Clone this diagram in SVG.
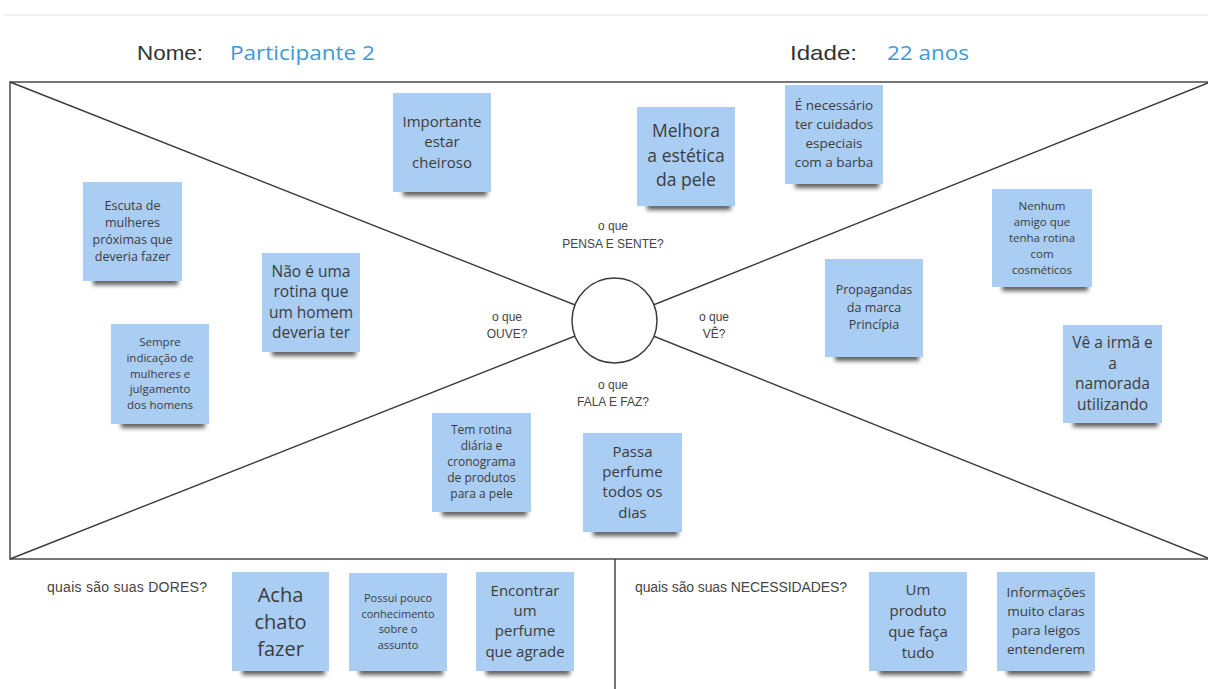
<svg xmlns="http://www.w3.org/2000/svg" width="1208" height="689" viewBox="0 0 1208 689">
<style>
.frame{fill:none;stroke:#4a4a4a;stroke-width:1.5}
.conn line{stroke:#3a3a3a;stroke-width:1.4}
.hub{fill:#fff;stroke:#3a3a3a;stroke-width:1.5}
.paper{fill:#a9cdf3}
.shadow{fill:#1e1e1e;opacity:.7;filter:url(#blur)}
.nt{font-family:"Open Sans","Noto Sans",sans-serif;fill:#3c3c3c;text-anchor:middle}
.lbl{font-family:"Liberation Sans","DejaVu Sans",sans-serif;fill:#444;font-size:12px;text-anchor:middle}
.sec{font-family:"Liberation Sans","DejaVu Sans",sans-serif;fill:#444;font-size:14px}
.hd{font-family:"Liberation Sans","DejaVu Sans",sans-serif;fill:#333;font-size:21px}
.hv{font-family:"Open Sans","Noto Sans",sans-serif;fill:#3d9ad6;font-size:20px}
</style>
<defs>
<filter id="blur" x="-20%" y="-100%" width="140%" height="300%"><feGaussianBlur stdDeviation="2"/></filter>
</defs>
<rect width="1208" height="689" fill="#fff"/>
<line x1="4" y1="15" x2="1208" y2="15" stroke="#eeeeee" stroke-width="1.5"/>

<g id="header">
<text class="hd" x="137" y="60" textLength="66" lengthAdjust="spacingAndGlyphs">Nome:</text>
<text class="hv" x="230" y="60" textLength="145" lengthAdjust="spacingAndGlyphs">Participante 2</text>
<text class="hd" x="790" y="60" textLength="67" lengthAdjust="spacingAndGlyphs">Idade:</text>
<text class="hv" x="887" y="60" textLength="82" lengthAdjust="spacingAndGlyphs">22 anos</text>
</g>

<g id="connectors" class="conn">
<rect class="frame" x="10" y="82" width="1210" height="477"/>
<line x1="10" y1="82" x2="614.5" y2="320.5"/>
<line x1="10" y1="559" x2="614.5" y2="320.5"/>
<line x1="1208" y1="83" x2="614.5" y2="320.5"/>
<line x1="1208" y1="558" x2="614.5" y2="320.5"/>
<line x1="615" y1="559" x2="615" y2="689"/>
</g>

<g id="hub"><circle class="hub" cx="614.5" cy="320.5" r="42.5"/></g>

<g id="label-pensa"><text class="lbl"><tspan x="613" y="230">o que</tspan><tspan x="613" y="248">PENSA E SENTE?</tspan></text></g>
<g id="label-ouve"><text class="lbl"><tspan x="507" y="321">o que</tspan><tspan x="507" y="338">OUVE?</tspan></text></g>
<g id="label-ve"><text class="lbl"><tspan x="714" y="321">o que</tspan><tspan x="714" y="338">VÊ?</tspan></text></g>
<g id="label-fala"><text class="lbl"><tspan x="613" y="389">o que</tspan><tspan x="613" y="406">FALA E FAZ?</tspan></text></g>

<g id="label-dores"><text class="sec" x="47" y="592" textLength="160">quais são suas DORES?</text></g>
<g id="label-necessidades"><text class="sec" x="635" y="592" textLength="212">quais são suas NECESSIDADES?</text></g>

<g id="n-importante">
<rect class="shadow" x="403" y="188" width="84" height="8"/>
<rect class="paper" x="393" y="93" width="98" height="99"/>
<text class="nt" font-size="15"><tspan x="442" y="126.5">Importante</tspan><tspan x="442" y="147">estar</tspan><tspan x="442" y="167.5">cheiroso</tspan></text>
</g>

<g id="n-melhora">
<rect class="shadow" x="647" y="202" width="84" height="8"/>
<rect class="paper" x="637" y="107" width="98" height="99"/>
<text class="nt" font-size="17.5"><tspan x="686" y="137">Melhora</tspan><tspan x="686" y="162">a estética</tspan><tspan x="686" y="186">da pele</tspan></text>
</g>

<g id="n-barba">
<rect class="shadow" x="795" y="180" width="84" height="8"/>
<rect class="paper" x="785" y="85" width="98" height="99"/>
<text class="nt" font-size="13.5"><tspan x="834" y="110">É necessário</tspan><tspan x="834" y="129">ter cuidados</tspan><tspan x="834" y="148">especiais</tspan><tspan x="834" y="167">com a barba</tspan></text>
</g>

<g id="n-nenhum">
<rect class="shadow" x="1002" y="283" width="86" height="8"/>
<rect class="paper" x="992" y="189" width="100" height="98"/>
<text class="nt" font-size="11.5"><tspan x="1042" y="209.5">Nenhum</tspan><tspan x="1042" y="225.5">amigo que</tspan><tspan x="1042" y="241.5">tenha rotina</tspan><tspan x="1042" y="257.5">com</tspan><tspan x="1042" y="273.5">cosméticos</tspan></text>
</g>

<g id="n-propagandas">
<rect class="shadow" x="835" y="353" width="84" height="8"/>
<rect class="paper" x="825" y="259" width="98" height="98"/>
<text class="nt" font-size="12.5"><tspan x="874" y="294">Propagandas</tspan><tspan x="874" y="312">da marca</tspan><tspan x="874" y="329">Princípia</tspan></text>
</g>

<g id="n-irma">
<rect class="shadow" x="1073" y="419" width="85" height="8"/>
<rect class="paper" x="1063" y="325" width="99" height="98"/>
<text class="nt" font-size="15.5"><tspan x="1112.5" y="348">Vê a irmã e</tspan><tspan x="1112.5" y="368.5">a</tspan><tspan x="1112.5" y="389">namorada</tspan><tspan x="1112.5" y="409.5">utilizando</tspan></text>
</g>

<g id="n-escuta">
<rect class="shadow" x="93" y="277" width="85" height="8"/>
<rect class="paper" x="83" y="182" width="99" height="99"/>
<text class="nt" font-size="12.5"><tspan x="132.5" y="210">Escuta de</tspan><tspan x="132.5" y="227">mulheres</tspan><tspan x="132.5" y="243.5">próximas que</tspan><tspan x="132.5" y="260.5">deveria fazer</tspan></text>
</g>

<g id="n-rotina">
<rect class="shadow" x="272" y="348" width="84" height="8"/>
<rect class="paper" x="262" y="253" width="98" height="99"/>
<text class="nt" font-size="15.5"><tspan x="311" y="276.5">Não é uma</tspan><tspan x="311" y="297">rotina que</tspan><tspan x="311" y="317.5">um homem</tspan><tspan x="311" y="338">deveria ter</tspan></text>
</g>

<g id="n-sempre">
<rect class="shadow" x="121" y="420" width="84" height="8"/>
<rect class="paper" x="111" y="324" width="98" height="100"/>
<text class="nt" font-size="11.5"><tspan x="160" y="346">Sempre</tspan><tspan x="160" y="361.75">indicação de</tspan><tspan x="160" y="377.5">mulheres e</tspan><tspan x="160" y="393.25">julgamento</tspan><tspan x="160" y="409">dos homens</tspan></text>
</g>

<g id="n-cronograma">
<rect class="shadow" x="442" y="508" width="85" height="8"/>
<rect class="paper" x="432" y="413" width="99" height="99"/>
<text class="nt" font-size="12"><tspan x="481.5" y="434">Tem rotina</tspan><tspan x="481.5" y="450">diária e</tspan><tspan x="481.5" y="466">cronograma</tspan><tspan x="481.5" y="482">de produtos</tspan><tspan x="481.5" y="498">para a pele</tspan></text>
</g>

<g id="n-perfume">
<rect class="shadow" x="593" y="528" width="85" height="8"/>
<rect class="paper" x="583" y="433" width="99" height="99"/>
<text class="nt" font-size="15"><tspan x="632.5" y="456.5">Passa</tspan><tspan x="632.5" y="477">perfume</tspan><tspan x="632.5" y="497">todos os</tspan><tspan x="632.5" y="517.5">dias</tspan></text>
</g>

<g id="n-chato">
<rect class="shadow" x="242" y="667" width="83" height="8"/>
<rect class="paper" x="232" y="572" width="97" height="99"/>
<text class="nt" font-size="20"><tspan x="280.5" y="602">Acha</tspan><tspan x="280.5" y="629">chato</tspan><tspan x="280.5" y="656">fazer</tspan></text>
</g>

<g id="n-conhecimento">
<rect class="shadow" x="359" y="667" width="84" height="8"/>
<rect class="paper" x="349" y="573" width="98" height="98"/>
<text class="nt" font-size="11"><tspan x="398" y="602">Possui pouco</tspan><tspan x="398" y="617.5">conhecimento</tspan><tspan x="398" y="633">sobre o</tspan><tspan x="398" y="648.5">assunto</tspan></text>
</g>

<g id="n-encontrar">
<rect class="shadow" x="486" y="667" width="84" height="8"/>
<rect class="paper" x="476" y="572" width="98" height="99"/>
<text class="nt" font-size="15"><tspan x="525" y="595.5">Encontrar</tspan><tspan x="525" y="616">um</tspan><tspan x="525" y="636">perfume</tspan><tspan x="525" y="656.5">que agrade</tspan></text>
</g>

<g id="n-produto">
<rect class="shadow" x="879" y="667" width="84" height="8"/>
<rect class="paper" x="869" y="572" width="98" height="99"/>
<text class="nt" font-size="15"><tspan x="918" y="594.5">Um</tspan><tspan x="918" y="615.5">produto</tspan><tspan x="918" y="636.5">que faça</tspan><tspan x="918" y="657.5">tudo</tspan></text>
</g>

<g id="n-informacoes">
<rect class="shadow" x="1007" y="667" width="84" height="8"/>
<rect class="paper" x="997" y="572" width="98" height="99"/>
<text class="nt" font-size="13.5"><tspan x="1046" y="597">Informações</tspan><tspan x="1046" y="616">muito claras</tspan><tspan x="1046" y="635">para leigos</tspan><tspan x="1046" y="654">entenderem</tspan></text>
</g>
</svg>
